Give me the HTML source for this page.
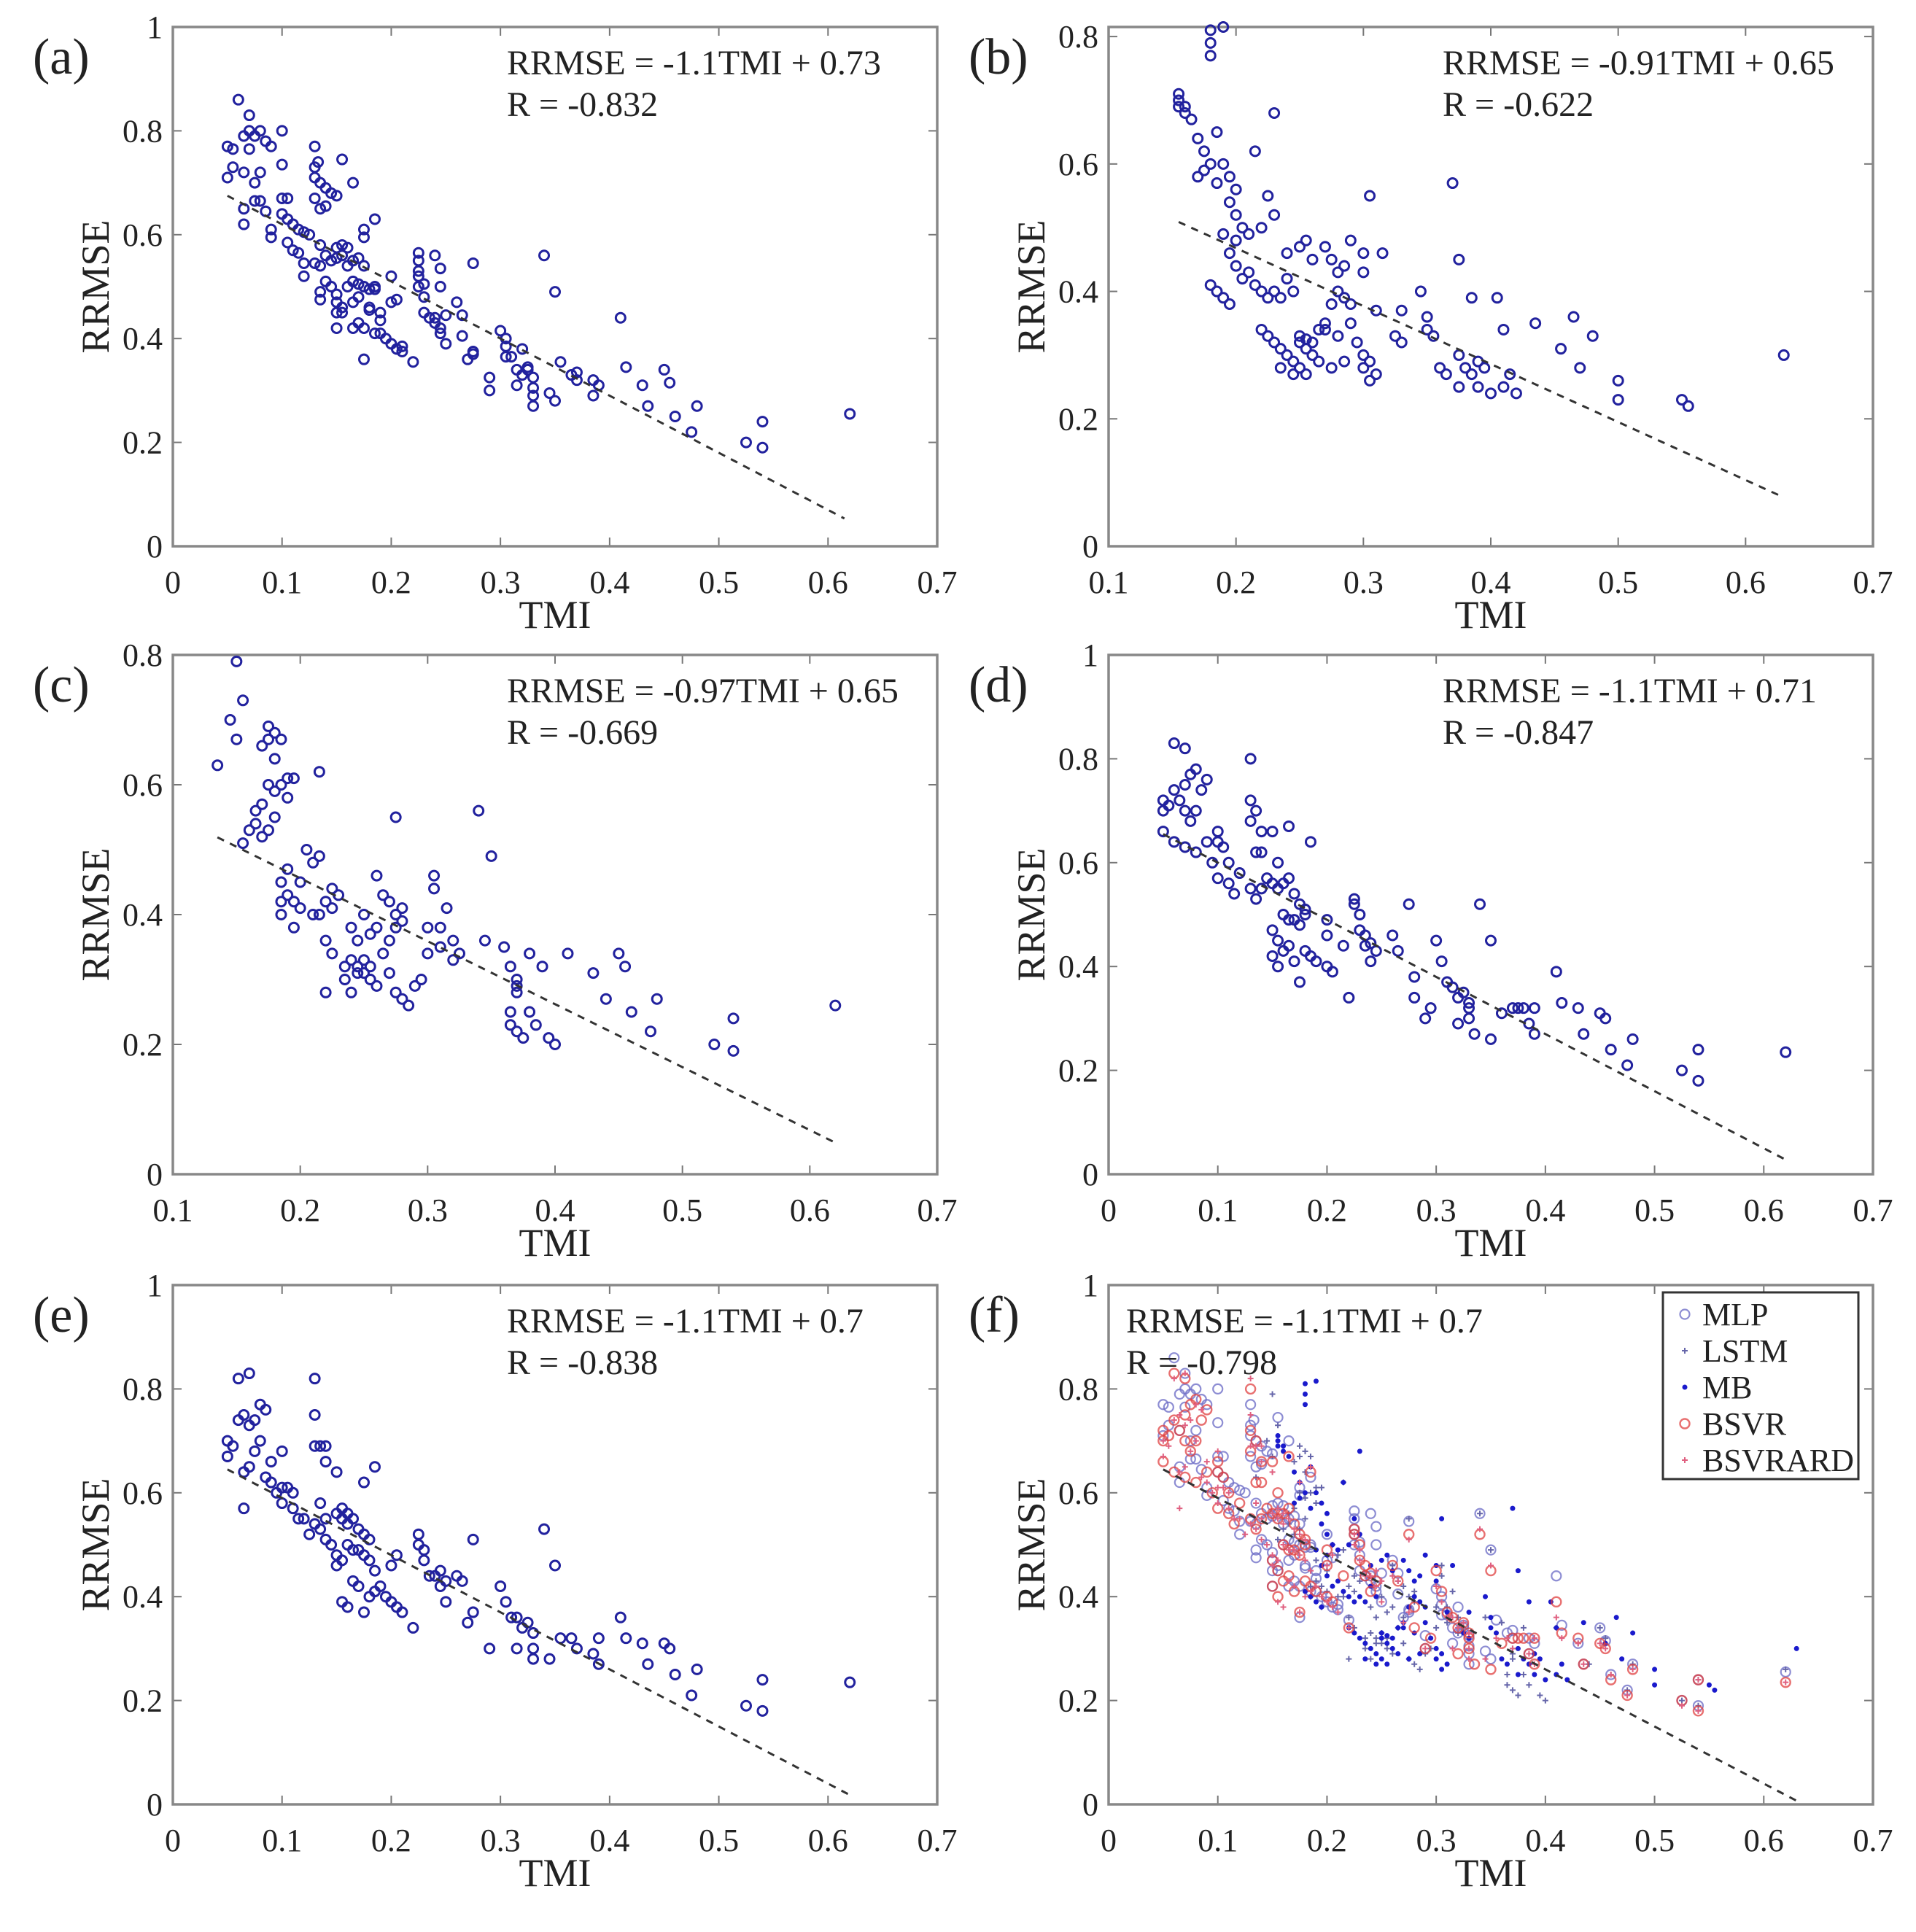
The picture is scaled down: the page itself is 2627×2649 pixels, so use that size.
<!DOCTYPE html>
<html><head><meta charset="utf-8"><style>
html,body{margin:0;padding:0;background:#fff;}
svg{display:block;}
text{font-family:"Liberation Serif","Times New Roman",serif;fill:#222;}
</style></head><body>
<svg id="fig" width="2627" height="2649" viewBox="0 0 2627 2649" xmlns="http://www.w3.org/2000/svg"></svg>
<script>
// ---- data (TMI, RRMSE pairs) ----
const aX=[0.06,0.07,0.05,0.055,0.065,0.07,0.075,0.08,0.085,0.07,0.09,0.1,0.05,0.055,0.065,0.075,0.08,0.1,0.075,0.08,0.065,0.065,0.085,0.09,0.09,0.1,0.105,0.1,0.105,0.11,0.115,0.12,0.125,0.105,0.11,0.115,0.12,0.12,0.13,0.13,0.133,0.13,0.135,0.14,0.145,0.15,0.13,0.135,0.14,0.155,0.165,0.135,0.13,0.135,0.14,0.145,0.15,0.15,0.155,0.16,0.155,0.16,0.165,0.17,0.175,0.175,0.175,0.185,0.14,0.145,0.15,0.15,0.155,0.16,0.165,0.17,0.175,0.18,0.185,0.185,0.15,0.155,0.165,0.17,0.135,0.135,0.15,0.165,0.17,0.175,0.18,0.18,0.175,0.185,0.19,0.19,0.195,0.2,0.205,0.21,0.21,0.19,0.2,0.2,0.205,0.225,0.225,0.225,0.225,0.225,0.23,0.23,0.24,0.245,0.245,0.22,0.23,0.235,0.24,0.24,0.245,0.245,0.25,0.25,0.26,0.265,0.265,0.275,0.275,0.275,0.27,0.29,0.29,0.3,0.305,0.305,0.305,0.31,0.32,0.315,0.32,0.325,0.325,0.33,0.33,0.33,0.33,0.315,0.34,0.35,0.345,0.35,0.355,0.365,0.37,0.37,0.385,0.385,0.39,0.41,0.415,0.43,0.435,0.45,0.455,0.46,0.475,0.48,0.525,0.54,0.54,0.62];
const aY=[0.86,0.83,0.77,0.765,0.79,0.80,0.79,0.80,0.78,0.765,0.77,0.80,0.71,0.73,0.72,0.70,0.72,0.735,0.665,0.665,0.65,0.62,0.645,0.61,0.595,0.67,0.67,0.64,0.63,0.62,0.61,0.605,0.60,0.585,0.57,0.565,0.545,0.52,0.77,0.73,0.74,0.71,0.70,0.69,0.68,0.675,0.67,0.65,0.655,0.745,0.70,0.58,0.545,0.54,0.56,0.55,0.555,0.575,0.58,0.575,0.56,0.54,0.55,0.555,0.54,0.61,0.595,0.63,0.51,0.50,0.485,0.47,0.46,0.50,0.51,0.505,0.50,0.495,0.50,0.495,0.45,0.45,0.47,0.48,0.49,0.475,0.42,0.42,0.43,0.42,0.46,0.455,0.36,0.41,0.41,0.435,0.40,0.39,0.38,0.375,0.385,0.45,0.52,0.47,0.475,0.565,0.55,0.53,0.52,0.50,0.505,0.48,0.56,0.535,0.50,0.355,0.45,0.44,0.44,0.43,0.42,0.41,0.39,0.445,0.47,0.445,0.405,0.545,0.37,0.375,0.36,0.30,0.325,0.415,0.40,0.385,0.365,0.365,0.38,0.34,0.33,0.34,0.345,0.325,0.305,0.29,0.27,0.31,0.56,0.49,0.295,0.28,0.355,0.33,0.335,0.32,0.32,0.29,0.31,0.44,0.345,0.31,0.27,0.34,0.315,0.25,0.22,0.27,0.20,0.24,0.19,0.255];

const bX=[0.18,0.19,0.18,0.18,0.155,0.155,0.16,0.16,0.155,0.165,0.17,0.175,0.185,0.19,0.18,0.175,0.17,0.185,0.195,0.2,0.195,0.2,0.215,0.23,0.205,0.19,0.2,0.21,0.22,0.225,0.23,0.195,0.2,0.21,0.18,0.185,0.19,0.195,0.205,0.215,0.22,0.225,0.23,0.235,0.24,0.245,0.24,0.25,0.255,0.26,0.22,0.225,0.23,0.235,0.24,0.245,0.25,0.25,0.255,0.26,0.255,0.26,0.265,0.27,0.265,0.25,0.245,0.255,0.235,0.27,0.275,0.28,0.285,0.28,0.285,0.29,0.275,0.27,0.28,0.29,0.29,0.3,0.3,0.305,0.31,0.315,0.295,0.3,0.305,0.31,0.305,0.3,0.285,0.275,0.33,0.325,0.33,0.345,0.35,0.35,0.355,0.36,0.365,0.37,0.375,0.375,0.38,0.385,0.385,0.39,0.39,0.375,0.395,0.4,0.405,0.41,0.41,0.415,0.42,0.435,0.455,0.465,0.47,0.48,0.5,0.5,0.55,0.555,0.63];
const bY=[0.81,0.815,0.79,0.77,0.71,0.70,0.69,0.68,0.69,0.67,0.64,0.62,0.65,0.60,0.60,0.59,0.58,0.57,0.58,0.56,0.54,0.52,0.62,0.68,0.50,0.49,0.48,0.49,0.50,0.55,0.52,0.46,0.44,0.43,0.41,0.40,0.39,0.38,0.42,0.41,0.40,0.39,0.40,0.39,0.42,0.40,0.46,0.47,0.48,0.45,0.34,0.33,0.32,0.31,0.30,0.29,0.32,0.33,0.325,0.32,0.31,0.30,0.34,0.35,0.29,0.28,0.27,0.27,0.28,0.47,0.45,0.43,0.44,0.40,0.39,0.38,0.38,0.34,0.33,0.35,0.48,0.46,0.43,0.55,0.37,0.46,0.32,0.30,0.29,0.27,0.26,0.28,0.29,0.28,0.37,0.33,0.32,0.40,0.36,0.34,0.33,0.28,0.27,0.57,0.45,0.30,0.28,0.27,0.39,0.29,0.25,0.25,0.28,0.24,0.39,0.34,0.25,0.27,0.24,0.35,0.31,0.36,0.28,0.33,0.26,0.23,0.23,0.22,0.30];

const cX=[0.15,0.155,0.145,0.15,0.135,0.175,0.18,0.175,0.17,0.185,0.19,0.195,0.185,0.18,0.18,0.175,0.17,0.165,0.165,0.17,0.175,0.18,0.19,0.155,0.16,0.215,0.205,0.21,0.215,0.19,0.185,0.19,0.185,0.195,0.2,0.185,0.195,0.2,0.21,0.215,0.22,0.225,0.225,0.23,0.22,0.225,0.22,0.235,0.235,0.24,0.245,0.25,0.255,0.24,0.245,0.25,0.255,0.26,0.24,0.245,0.25,0.255,0.26,0.26,0.265,0.27,0.275,0.275,0.28,0.28,0.27,0.265,0.27,0.275,0.275,0.28,0.285,0.29,0.295,0.3,0.3,0.305,0.305,0.31,0.31,0.315,0.32,0.32,0.325,0.34,0.35,0.345,0.36,0.365,0.37,0.37,0.37,0.365,0.365,0.37,0.375,0.38,0.38,0.385,0.39,0.395,0.4,0.41,0.43,0.44,0.45,0.455,0.46,0.475,0.48,0.525,0.54,0.54,0.62];
const cY=[0.79,0.73,0.70,0.67,0.63,0.69,0.68,0.67,0.66,0.67,0.61,0.61,0.60,0.64,0.59,0.60,0.57,0.56,0.54,0.52,0.53,0.55,0.58,0.51,0.53,0.62,0.50,0.48,0.49,0.47,0.45,0.43,0.42,0.42,0.41,0.40,0.38,0.45,0.40,0.40,0.42,0.41,0.44,0.43,0.36,0.34,0.28,0.30,0.32,0.33,0.32,0.33,0.32,0.28,0.31,0.31,0.30,0.29,0.38,0.36,0.40,0.37,0.38,0.46,0.43,0.42,0.40,0.38,0.39,0.41,0.36,0.34,0.31,0.28,0.55,0.27,0.26,0.29,0.30,0.34,0.38,0.44,0.46,0.38,0.35,0.41,0.36,0.33,0.34,0.56,0.49,0.36,0.35,0.32,0.30,0.29,0.28,0.25,0.23,0.22,0.21,0.34,0.25,0.23,0.32,0.21,0.20,0.34,0.31,0.27,0.34,0.32,0.25,0.22,0.27,0.20,0.24,0.19,0.26];

const dX=[0.06,0.07,0.05,0.05,0.055,0.06,0.065,0.07,0.075,0.08,0.085,0.09,0.07,0.075,0.08,0.06,0.05,0.07,0.08,0.09,0.1,0.1,0.105,0.095,0.1,0.11,0.11,0.12,0.115,0.13,0.13,0.135,0.13,0.14,0.15,0.165,0.135,0.14,0.155,0.13,0.135,0.14,0.145,0.15,0.155,0.16,0.165,0.17,0.175,0.18,0.185,0.18,0.16,0.165,0.17,0.175,0.15,0.155,0.16,0.165,0.17,0.175,0.155,0.15,0.18,0.185,0.19,0.2,0.205,0.2,0.2,0.215,0.225,0.225,0.23,0.23,0.235,0.235,0.24,0.245,0.22,0.24,0.26,0.265,0.275,0.28,0.28,0.29,0.295,0.3,0.305,0.31,0.315,0.32,0.325,0.33,0.33,0.33,0.32,0.335,0.34,0.35,0.35,0.36,0.37,0.375,0.38,0.385,0.39,0.39,0.41,0.415,0.43,0.435,0.45,0.455,0.46,0.475,0.48,0.525,0.54,0.54,0.62];
const dY=[0.83,0.82,0.72,0.70,0.71,0.74,0.72,0.75,0.77,0.78,0.74,0.76,0.70,0.68,0.70,0.64,0.66,0.63,0.62,0.64,0.66,0.64,0.63,0.60,0.57,0.56,0.60,0.58,0.54,0.80,0.72,0.70,0.68,0.66,0.66,0.67,0.62,0.62,0.60,0.55,0.53,0.55,0.57,0.56,0.55,0.56,0.57,0.54,0.52,0.51,0.64,0.50,0.50,0.49,0.49,0.48,0.47,0.45,0.43,0.44,0.41,0.37,0.40,0.42,0.43,0.42,0.41,0.40,0.39,0.46,0.49,0.44,0.52,0.53,0.50,0.47,0.46,0.44,0.445,0.43,0.34,0.41,0.46,0.43,0.52,0.38,0.34,0.30,0.32,0.45,0.41,0.37,0.36,0.34,0.35,0.33,0.32,0.30,0.29,0.27,0.52,0.45,0.26,0.31,0.32,0.32,0.32,0.29,0.27,0.32,0.39,0.33,0.32,0.27,0.31,0.30,0.24,0.21,0.26,0.20,0.24,0.18,0.235];

const eX=[0.07,0.06,0.05,0.05,0.055,0.06,0.065,0.07,0.075,0.08,0.085,0.07,0.065,0.075,0.08,0.065,0.085,0.09,0.1,0.09,0.095,0.1,0.105,0.11,0.1,0.11,0.115,0.12,0.125,0.13,0.13,0.13,0.135,0.14,0.14,0.15,0.135,0.13,0.135,0.14,0.15,0.155,0.16,0.155,0.16,0.165,0.17,0.175,0.18,0.185,0.175,0.14,0.145,0.15,0.155,0.16,0.165,0.17,0.175,0.18,0.185,0.15,0.155,0.16,0.165,0.17,0.175,0.18,0.185,0.19,0.195,0.2,0.205,0.21,0.2,0.205,0.225,0.225,0.23,0.23,0.235,0.24,0.245,0.25,0.22,0.245,0.25,0.26,0.265,0.275,0.275,0.27,0.29,0.3,0.305,0.31,0.315,0.32,0.325,0.33,0.33,0.33,0.315,0.34,0.35,0.345,0.355,0.365,0.37,0.385,0.39,0.39,0.41,0.415,0.43,0.435,0.45,0.455,0.46,0.475,0.48,0.525,0.54,0.54,0.62];
const eY=[0.83,0.82,0.70,0.67,0.69,0.74,0.75,0.73,0.74,0.77,0.76,0.65,0.64,0.68,0.70,0.57,0.63,0.66,0.68,0.62,0.60,0.61,0.61,0.60,0.58,0.57,0.55,0.55,0.52,0.82,0.75,0.69,0.69,0.69,0.66,0.64,0.58,0.54,0.53,0.55,0.56,0.57,0.56,0.55,0.54,0.55,0.53,0.52,0.51,0.65,0.62,0.51,0.50,0.48,0.47,0.50,0.49,0.49,0.48,0.47,0.45,0.46,0.39,0.38,0.43,0.42,0.37,0.40,0.41,0.42,0.40,0.39,0.38,0.37,0.46,0.48,0.52,0.50,0.49,0.47,0.44,0.44,0.45,0.43,0.34,0.42,0.39,0.44,0.43,0.51,0.37,0.35,0.30,0.42,0.39,0.36,0.36,0.34,0.35,0.33,0.30,0.28,0.30,0.53,0.46,0.28,0.32,0.32,0.30,0.29,0.27,0.32,0.36,0.32,0.31,0.27,0.31,0.30,0.25,0.21,0.26,0.19,0.24,0.18,0.235];

const xTicksA=[0,0.1,0.2,0.3,0.4,0.5,0.6,0.7];
const xTicksB=[0.1,0.2,0.3,0.4,0.5,0.6,0.7];
const yTicks1=[0,0.2,0.4,0.6,0.8,1];
const yTicks08=[0,0.2,0.4,0.6,0.8];
const legendNames=["MLP","LSTM","MB","BSVR","BSVRARD"];

const NS="http://www.w3.org/2000/svg";
const FF='"Liberation Serif","Times New Roman",serif';
const fig=document.getElementById('fig');
function el(tag,attrs,parent,txt){const e=document.createElementNS(NS,tag);for(const k in attrs)e.setAttribute(k,attrs[k]);if(tag==='text')e.setAttribute('font-family',FF);if(txt!==undefined)e.textContent=txt;(parent||fig).appendChild(e);return e;}
function fmt(v){return v===0?'0':(v===1?'1':String(v));}

function marker(g,type,px,py){
  let m;
  if(type==='circle'){m=el('circle',{cx:px,cy:py,r:6.5,fill:'none',stroke:'#22229e','stroke-width':3},g);}
  else if(type==='mlp'){m=el('circle',{cx:px,cy:py,r:6.5,fill:'none',stroke:'#7070c8','stroke-width':2.2,opacity:0.8},g);}
  else if(type==='bsvr'){m=el('circle',{cx:px,cy:py,r:6.5,fill:'none',stroke:'#e04040','stroke-width':2.4,opacity:0.75},g);}
  else if(type==='mb'){m=el('circle',{cx:px,cy:py,r:3.5,fill:'#1a1acc',stroke:'none'},g);}
  else if(type==='lstm'){m=el('path',{d:`M${px-4},${py}h8M${px},${py-4}v8`,stroke:'#6666aa','stroke-width':2},g);}
  else {m=el('path',{d:`M${px-4},${py}h8M${px},${py-4}v8`,stroke:'#e06080','stroke-width':2},g);}
  return m;
}

function panel(o){
  const g=el('g',{});
  
  
  const L=o.left,T=o.top,W=1048,H=712;
  const sx=v=>L+(v-o.xmin)/(o.xmax-o.xmin)*W;
  const sy=v=>T+H-(v-o.ymin)/(o.ymax-o.ymin)*H;
  o.xt.forEach(t=>{
    const x=sx(t);
    if(t>o.xmin&&t<o.xmax){el('line',{x1:x,y1:T+H,x2:x,y2:T+H-12,stroke:'#777','stroke-width':2},g);el('line',{x1:x,y1:T,x2:x,y2:T+12,stroke:'#777','stroke-width':2},g);}
    const tl=el('text',{x:x,y:T+H+64,'font-size':44,'text-anchor':'middle'},g,fmt(t));
    
    
  });
  o.yt.forEach(t=>{
    const y=sy(t);
    if(t>o.ymin&&t<o.ymax){el('line',{x1:L,y1:y,x2:L+12,y2:y,stroke:'#777','stroke-width':2},g);el('line',{x1:L+W,y1:y,x2:L+W-12,y2:y,stroke:'#777','stroke-width':2},g);}
    const tl=el('text',{x:L-14,y:y+15,'font-size':44,'text-anchor':'end'},g,fmt(t));
    
    
  });
  const box=el('rect',{x:L,y:T,width:W,height:H,fill:'none',stroke:'#888','stroke-width':3.5},g);
  
  
  o.series.forEach(s=>{
    const sg=el('g',{},g);
    
    
    s.x.forEach((xv,i)=>{
      const m=marker(sg,s.type,sx(xv),sy(s.y[i]));
      
      
    });
  });
  const fl=el('line',{x1:sx(o.fx[0]),y1:sy(o.slope*o.fx[0]+o.icpt),x2:sx(o.fx[1]),y2:sy(o.slope*o.fx[1]+o.icpt),stroke:'#333','stroke-width':3,'stroke-dasharray':'10,9'},g);
  
  
  const pl=el('text',{x:L-192,y:T+64,'font-size':70},g,'('+o.id+')');
  
  
  const ex=o.eqLeft?L+24:L+458;
  const e1=el('text',{x:ex,y:T+65,'font-size':48},g,o.eq);
  
  
  const e2=el('text',{x:ex,y:T+122,'font-size':48},g,o.r);
  
  
  const xt=el('text',{x:L+W/2,y:T+H+112,'font-size':54,'text-anchor':'middle'},g,'TMI');
  
  
  const yt=el('text',{x:0,y:0,'font-size':54,'text-anchor':'middle',transform:`translate(${L-88},${T+H/2}) rotate(-90)`},g,'RRMSE');
  
  
  return g;
}

const L1=237,L2=1520,T1=37,T2=898,T3=1762;
panel({id:'a',left:L1,top:T1,xmin:0,xmax:0.7,ymin:0,ymax:1,xt:xTicksA,yt:yTicks1,series:[{name:'a',type:'circle',x:aX,y:aY}],slope:-1.1,icpt:0.73,fx:[0.05,0.615],eq:'RRMSE = -1.1TMI + 0.73',r:'R = -0.832'});
panel({id:'b',left:L2,top:T1,xmin:0.1,xmax:0.7,ymin:0,ymax:0.815,xt:xTicksB,yt:yTicks08,series:[{name:'b',type:'circle',x:bX,y:bY}],slope:-0.91,icpt:0.65,fx:[0.155,0.63],eq:'RRMSE = -0.91TMI + 0.65',r:'R = -0.622'});
panel({id:'c',left:L1,top:T2,xmin:0.1,xmax:0.7,ymin:0,ymax:0.8,xt:xTicksB,yt:yTicks08,series:[{name:'c',type:'circle',x:cX,y:cY}],slope:-0.97,icpt:0.65,fx:[0.135,0.62],eq:'RRMSE = -0.97TMI + 0.65',r:'R = -0.669'});
panel({id:'d',left:L2,top:T2,xmin:0,xmax:0.7,ymin:0,ymax:1,xt:xTicksA,yt:yTicks1,series:[{name:'d',type:'circle',x:dX,y:dY}],slope:-1.1,icpt:0.71,fx:[0.05,0.62],eq:'RRMSE = -1.1TMI + 0.71',r:'R = -0.847'});
panel({id:'e',left:L1,top:T3,xmin:0,xmax:0.7,ymin:0,ymax:1,xt:xTicksA,yt:yTicks1,series:[{name:'e',type:'circle',x:eX,y:eY}],slope:-1.1,icpt:0.7,fx:[0.05,0.62],eq:'RRMSE = -1.1TMI + 0.7',r:'R = -0.838'});
panel({id:'f',left:L2,top:T3,xmin:0,xmax:0.7,ymin:0,ymax:1,xt:xTicksA,yt:yTicks1,eqLeft:true,series:[
  {name:'mlp',type:'mlp',x:aX,y:aY},{name:'lstm',type:'lstm',x:cX,y:cY},{name:'mb',type:'mb',x:bX,y:bY},
  {name:'bsvr',type:'bsvr',x:dX,y:dY},{name:'bsvrard',type:'bsvrard',x:eX,y:eY}],
  slope:-1.1,icpt:0.7,fx:[0.05,0.63],eq:'RRMSE = -1.1TMI + 0.7',r:'R = -0.798'});

const lg=el('g',{});


el('rect',{x:2280,y:1772,width:268,height:256,fill:'#fff',stroke:'#333','stroke-width':3},lg);
const ltypes=['mlp','lstm','mb','bsvr','bsvrard'];
legendNames.forEach((n,i)=>{
  const y=1802+i*50;
  const le=el('g',{},lg);
  
  
  marker(le,ltypes[i],2310,y);
  el('text',{x:2334,y:y+15,'font-size':44},le,n);
});
</script>
</body></html>
